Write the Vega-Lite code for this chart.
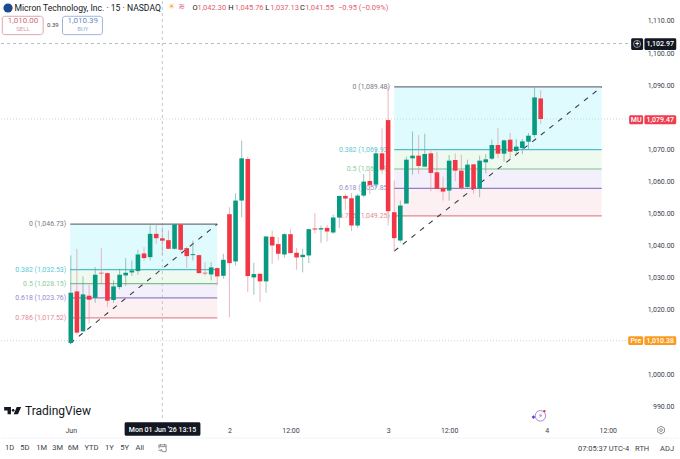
{
  "$schema": "https://vega.github.io/schema/vega-lite/v6.json",
  "width": 680,
  "height": 459,
  "padding": 0,
  "autosize": {"type": "fit", "contains": "padding"},
  "background": "#ffffff",
  "config": {
    "view": {"stroke": null},
    "axis": {"grid": false, "domain": false, "ticks": false, "title": null},
    "text": {"font": "Roboto", "fontSize": 7, "color": "#3a3e4a"}
  },
  "datasets": {
    "candles": [
      {"bar":0,"open":1009.69,"high":1036.95,"low":1009.49,"close":1025.34},
      {"bar":1,"open":1025.75,"high":1039.02,"low":1012.28,"close":1012.91},
      {"bar":2,"open":1013.32,"high":1030.42,"low":1013.11,"close":1024.82},
      {"bar":3,"open":1024.41,"high":1027.83,"low":1015.7,"close":1023.16},
      {"bar":4,"open":1023.79,"high":1033.32,"low":1022.23,"close":1030.94},
      {"bar":5,"open":1031.56,"high":1039.23,"low":1028.14,"close":1031.35},
      {"bar":6,"open":1031.45,"high":1031.56,"low":1020.88,"close":1022.85},
      {"bar":7,"open":1023.06,"high":1029.17,"low":1022.23,"close":1027.31},
      {"bar":8,"open":1027.1,"high":1032.8,"low":1026.38,"close":1030.94},
      {"bar":9,"open":1030.73,"high":1036.12,"low":1027.41,"close":1031.56},
      {"bar":10,"open":1031.66,"high":1035.39,"low":1030.52,"close":1032.28},
      {"bar":11,"open":1032.08,"high":1038.71,"low":1030.94,"close":1037.26},
      {"bar":12,"open":1037.57,"high":1039.54,"low":1035.39,"close":1036.12},
      {"bar":13,"open":1036.43,"high":1046.27,"low":1035.39,"close":1043.68},
      {"bar":14,"open":1043.68,"high":1046.73,"low":1040.57,"close":1042.33},
      {"bar":15,"open":1042.3,"high":1045.76,"low":1037.13,"close":1041.55},
      {"bar":16,"open":1041.71,"high":1044.72,"low":1039.02,"close":1039.02},
      {"bar":17,"open":1039.02,"high":1046.7,"low":1038.81,"close":1046.6},
      {"bar":18,"open":1046.6,"high":1046.7,"low":1038.19,"close":1038.71},
      {"bar":19,"open":1039.23,"high":1039.54,"low":1033.01,"close":1036.74},
      {"bar":20,"open":1037.05,"high":1041.6,"low":1035.39,"close":1037.36},
      {"bar":21,"open":1037.05,"high":1037.26,"low":1031.25,"close":1031.45},
      {"bar":22,"open":1031.56,"high":1034.87,"low":1030.73,"close":1031.35},
      {"bar":23,"open":1031.04,"high":1034.87,"low":1029.17,"close":1033.22},
      {"bar":24,"open":1033.01,"high":1033.32,"low":1027.62,"close":1030.42},
      {"bar":25,"open":1030.62,"high":1037.46,"low":1029.69,"close":1035.6},
      {"bar":26,"open":1049.8,"high":1051.98,"low":1017.68,"close":1034.57},
      {"bar":27,"open":1035.09,"high":1056.33,"low":1033.84,"close":1054.05},
      {"bar":28,"open":1054.05,"high":1072.7,"low":1048.87,"close":1067.21},
      {"bar":29,"open":1067,"high":1067.73,"low":1025.55,"close":1030.53},
      {"bar":30,"open":1030.11,"high":1034.67,"low":1024.72,"close":1031.15},
      {"bar":31,"open":1031.25,"high":1031.25,"low":1022.45,"close":1028.87},
      {"bar":32,"open":1028.87,"high":1042.86,"low":1025.35,"close":1042.86},
      {"bar":33,"open":1042.76,"high":1044.72,"low":1034.36,"close":1040.06},
      {"bar":34,"open":1040.48,"high":1042.65,"low":1035.4,"close":1037.47},
      {"bar":35,"open":1037.26,"high":1043.89,"low":1036.23,"close":1043.58},
      {"bar":36,"open":1043.58,"high":1045.14,"low":1037.68,"close":1037.68},
      {"bar":37,"open":1037.78,"high":1039.34,"low":1032.5,"close":1036.33},
      {"bar":38,"open":1036.43,"high":1039.03,"low":1031.67,"close":1037.16},
      {"bar":39,"open":1036.95,"high":1045.14,"low":1034.57,"close":1045.14},
      {"bar":40,"open":1045.35,"high":1050.11,"low":1043.69,"close":1045.03},
      {"bar":41,"open":1045.03,"high":1046.28,"low":1040.89,"close":1045.45},
      {"bar":42,"open":1045.55,"high":1046.49,"low":1041.3,"close":1044.41},
      {"bar":43,"open":1044.1,"high":1049.7,"low":1043.69,"close":1048.77},
      {"bar":44,"open":1048.77,"high":1055.5,"low":1045.55,"close":1055.5},
      {"bar":45,"open":1055.5,"high":1056.12,"low":1051.15,"close":1054.67},
      {"bar":46,"open":1054.77,"high":1056.43,"low":1044.52,"close":1046.28},
      {"bar":47,"open":1046.28,"high":1056.12,"low":1045.55,"close":1055.6},
      {"bar":48,"open":1055.6,"high":1062.34,"low":1055.09,"close":1059.96},
      {"bar":49,"open":1060.16,"high":1063.37,"low":1056.12,"close":1058.92},
      {"bar":50,"open":1059.02,"high":1070.11,"low":1057.99,"close":1068.76},
      {"bar":51,"open":1068.76,"high":1076.53,"low":1062.34,"close":1063.68},
      {"bar":52,"open":1079.12,"high":1089.48,"low":1046.28,"close":1050.73},
      {"bar":53,"open":1050.42,"high":1060.27,"low":1038.3,"close":1042.34},
      {"bar":54,"open":1041.61,"high":1054.05,"low":1041.09,"close":1052.49},
      {"bar":55,"open":1053.12,"high":1067.73,"low":1053.12,"close":1066.79},
      {"bar":56,"open":1067.21,"high":1075.6,"low":1062.13,"close":1068.04},
      {"bar":57,"open":1068.04,"high":1074.46,"low":1062.34,"close":1064.82},
      {"bar":58,"open":1064.62,"high":1074.88,"low":1064.62,"close":1068.55},
      {"bar":59,"open":1068.76,"high":1069.59,"low":1056.95,"close":1062.65},
      {"bar":60,"open":1062.86,"high":1069.28,"low":1057.67,"close":1057.67},
      {"bar":61,"open":1057.99,"high":1061.51,"low":1054.05,"close":1056.85},
      {"bar":62,"open":1057.16,"high":1068.24,"low":1054.05,"close":1066.48},
      {"bar":63,"open":1066.69,"high":1068.76,"low":1060.06,"close":1063.37},
      {"bar":64,"open":1063.37,"high":1068.35,"low":1057.36,"close":1057.99},
      {"bar":65,"open":1058.3,"high":1066.79,"low":1057.99,"close":1065.24},
      {"bar":66,"open":1065.34,"high":1065.34,"low":1056.12,"close":1057.67},
      {"bar":67,"open":1057.78,"high":1068.04,"low":1055.08,"close":1066.48},
      {"bar":68,"open":1065.96,"high":1068.55,"low":1062.55,"close":1066.9},
      {"bar":69,"open":1067.1,"high":1073.01,"low":1066.69,"close":1071.35},
      {"bar":70,"open":1071.35,"high":1076.64,"low":1067.31,"close":1068.66},
      {"bar":71,"open":1068.66,"high":1073.01,"low":1066.17,"close":1072.8},
      {"bar":72,"open":1073.01,"high":1075.08,"low":1066.69,"close":1069.28},
      {"bar":73,"open":1069.49,"high":1073.22,"low":1068.35,"close":1070.84},
      {"bar":74,"open":1070.42,"high":1073.22,"low":1068.55,"close":1072.49},
      {"bar":75,"open":1072.39,"high":1075.08,"low":1070.11,"close":1074.25},
      {"bar":76,"open":1074.46,"high":1089.28,"low":1073.74,"close":1086.17},
      {"bar":77,"open":1085.86,"high":1088.45,"low":1077.88,"close":1079.47}
    ],
    "zones": [
      {"level":"0","start":-0.1,"end":24,"top":1046.73,"bottom":1032.53},
      {"level":"0.382","start":-0.1,"end":24,"top":1032.53,"bottom":1028.15},
      {"level":"0.5","start":-0.1,"end":24,"top":1028.15,"bottom":1023.76},
      {"level":"0.618","start":-0.1,"end":24,"top":1023.76,"bottom":1017.52},
      {"level":"0","start":53,"end":87,"top":1089.48,"bottom":1069.93},
      {"level":"0.382","start":53,"end":87,"top":1069.93,"bottom":1063.89},
      {"level":"0.5","start":53,"end":87,"top":1063.89,"bottom":1057.85},
      {"level":"0.618","start":53,"end":87,"top":1057.85,"bottom":1049.25}
    ],
    "fibs": [
      {"level":"0","start":-0.1,"end":24,"labelBar":-0.75,"price":1046.73,"label":"0 (1,046.73)"},
      {"level":"0.382","start":-0.1,"end":24,"labelBar":-0.75,"price":1032.53,"label":"0.382 (1,032.53)"},
      {"level":"0.5","start":-0.1,"end":24,"labelBar":-0.75,"price":1028.15,"label":"0.5 (1,028.15)"},
      {"level":"0.618","start":-0.1,"end":24,"labelBar":-0.75,"price":1023.76,"label":"0.618 (1,023.76)"},
      {"level":"0.786","start":-0.1,"end":24,"labelBar":-0.75,"price":1017.52,"label":"0.786 (1,017.52)"},
      {"level":"0","start":53,"end":87,"labelBar":52.3,"price":1089.48,"label":"0 (1,089.48)"},
      {"level":"0.382","start":53,"end":87,"labelBar":52.3,"price":1069.93,"label":"0.382 (1,069.93)"},
      {"level":"0.5","start":53,"end":87,"labelBar":52.3,"price":1063.89,"label":"0.5 (1,063.89)"},
      {"level":"0.618","start":53,"end":87,"labelBar":52.3,"price":1057.85,"label":"0.618 (1,057.85)"},
      {"level":"0.786","start":53,"end":87,"labelBar":52.3,"price":1049.25,"label":"0.786 (1,049.25)"}
    ],
    "trends": [
      {"id":"a","bar":-0.1,"price":1009.56},
      {"id":"a","bar":24,"price":1046.73},
      {"id":"b","bar":53,"price":1038.3},
      {"id":"b","bar":87,"price":1089.48}
    ]
  },
  "layer": [
    {
      "data": {"name": "zones"},
      "mark": {"type": "rect"},
      "encoding": {
        "x": {
          "field": "start",
          "type": "quantitative",
          "title": null,
          "scale": {"domain": [-11.44, 99.67], "nice": false, "zero": false, "padding": 0},
          "axis": {
            "values": [0, 26, 36, 52, 62, 78, 88],
            "labelExpr": "datum.value == 0 ? 'Jun' : datum.value == 26 ? '2' : datum.value == 52 ? '3' : datum.value == 78 ? '4' : '12:00'",
            "orient": "bottom",
            "labelPadding": -29,
            "labelBaseline": "middle",
            "labelFont": "Roboto",
            "labelFontSize": 7,
            "labelColor": "#3a3e4a",
            "labelOverlap": false,
            "labelFlush": false,
            "labelBound": false
          }
        },
        "x2": {"field": "end"},
        "y": {
          "field": "top",
          "type": "quantitative",
          "title": null,
          "scale": {"domain": [973.54, 1116.22], "nice": false, "zero": false, "padding": 0},
          "axis": {
            "orient": "right",
            "values": [990, 1000, 1020, 1030, 1040, 1050, 1060, 1070, 1090, 1100, 1110],
            "format": ",.2f",
            "labelAlign": "right",
            "labelBaseline": "middle",
            "labelPadding": -5,
            "labelFont": "Roboto",
            "labelFontSize": 7,
            "labelColor": "#3a3e4a",
            "labelOverlap": false,
            "labelFlush": false,
            "labelBound": false
          }
        },
        "y2": {"field": "bottom"},
        "color": {
          "field": "level",
          "type": "nominal",
          "legend": null,
          "scale": {
            "domain": ["0", "0.382", "0.5", "0.618"],
            "range": ["#e0fbfe", "#eef9f0", "#f3f0fc", "#fdf0f2"]
          }
        }
      }
    },
    {
      "data": {"values": [{"price": 1079.47}, {"price": 1010.38}]},
      "mark": {"type": "rule", "color": "#cfd1d6", "strokeWidth": 1, "strokeDash": [1, 2]},
      "encoding": {
        "x": {"datum": -11.44, "type": "quantitative"},
        "x2": {"datum": 91.5},
        "y": {"field": "price", "type": "quantitative"}
      }
    },
    {
      "data": {"values": [{"price": 1102.97}]},
      "mark": {"type": "rule", "color": "#b8bac2", "strokeWidth": 1, "strokeDash": [3, 3]},
      "encoding": {
        "x": {"datum": -11.44, "type": "quantitative"},
        "x2": {"datum": 91.8},
        "y": {"field": "price", "type": "quantitative"}
      }
    },
    {
      "data": {"values": [{"bar": 15}]},
      "mark": {"type": "rule", "color": "#c4c6cd", "strokeWidth": 1, "strokeDash": [3, 3]},
      "encoding": {
        "x": {"field": "bar", "type": "quantitative"},
        "y": {"datum": 1116.22, "type": "quantitative"},
        "y2": {"datum": 985.66}
      }
    },
    {
      "data": {"values": [{"price": 980.06}]},
      "mark": {"type": "rule", "color": "#f0f3fa", "strokeWidth": 1},
      "encoding": {
        "y": {"field": "price", "type": "quantitative"}
      }
    },
    {
      "data": {"name": "fibs"},
      "mark": {"type": "rule", "strokeWidth": 1.2},
      "encoding": {
        "x": {"field": "start", "type": "quantitative"},
        "x2": {"field": "end"},
        "y": {"field": "price", "type": "quantitative"},
        "color": {
          "field": "level",
          "type": "nominal",
          "legend": null,
          "scale": {
            "domain": ["0", "0.382", "0.5", "0.618", "0.786"],
            "range": ["#6f727d", "#4fc0c9", "#7cc08a", "#8f7fc4", "#e08a92"]
          }
        }
      }
    },
    {
      "data": {"name": "trends"},
      "mark": {"type": "line", "color": "#3a3e4a", "strokeWidth": 1.1, "strokeDash": [5, 6]},
      "encoding": {
        "x": {"field": "bar", "type": "quantitative"},
        "y": {"field": "price", "type": "quantitative"},
        "detail": {"field": "id"}
      }
    },
    {
      "data": {"name": "fibs"},
      "mark": {"type": "text", "align": "right", "baseline": "middle"},
      "encoding": {
        "x": {"field": "labelBar", "type": "quantitative"},
        "y": {"field": "price", "type": "quantitative"},
        "text": {"field": "label"},
        "color": {
          "field": "level",
          "type": "nominal",
          "legend": null,
          "scale": {
            "domain": ["0", "0.382", "0.5", "0.618", "0.786"],
            "range": ["#787b86", "#5cc9d2", "#8ccb9a", "#9a8cc8", "#e58a9a"]
          }
        }
      }
    },
    {
      "data": {"name": "candles"},
      "mark": {"type": "rule", "strokeWidth": 1, "opacity": 0.6},
      "encoding": {
        "x": {"field": "bar", "type": "quantitative"},
        "y": {"field": "low", "type": "quantitative"},
        "y2": {"field": "high"},
        "color": {
          "condition": {"test": "datum.close >= datum.open", "value": "#5f9c90"},
          "value": "#d98c96"
        }
      }
    },
    {
      "data": {"name": "candles"},
      "mark": {"type": "bar", "size": 4.6},
      "encoding": {
        "x": {"field": "bar", "type": "quantitative"},
        "y": {"field": "open", "type": "quantitative"},
        "y2": {"field": "close"},
        "color": {
          "condition": {"test": "datum.close >= datum.open", "value": "#089981"},
          "value": "#f23645"
        }
      }
    },
    {
      "data": {"values": [
        {"tag":"dark","a":91.83,"b":93.79,"top":1104.62,"bottom":1100.99},
        {"tag":"dark","a":94.0,"b":99.22,"top":1104.62,"bottom":1100.99},
        {"tag":"dark","a":8.82,"b":21.24,"top":984.95,"bottom":980.78},
        {"tag":"red","a":91.5,"b":93.79,"top":1080.62,"bottom":1077.83},
        {"tag":"red","a":94.0,"b":99.22,"top":1080.62,"bottom":1077.83},
        {"tag":"orange","a":91.34,"b":93.79,"top":1011.77,"bottom":1009.07},
        {"tag":"orange","a":94.0,"b":99.22,"top":1011.77,"bottom":1009.07}
      ]},
      "mark": {"type": "rect", "cornerRadius": 1.5},
      "encoding": {
        "x": {"field": "a", "type": "quantitative"},
        "x2": {"field": "b"},
        "y": {"field": "top", "type": "quantitative"},
        "y2": {"field": "bottom"},
        "color": {
          "field": "tag",
          "type": "nominal",
          "legend": null,
          "scale": {"domain": ["dark", "red", "orange"], "range": ["#131722", "#ef3e50", "#fb9a1e"]}
        }
      }
    },
    {
      "data": {"values": [
        {"label":"+","bar":92.8,"price":1102.85},
        {"label":"1,102.97","bar":96.6,"price":1102.85},
        {"label":"MU","bar":92.65,"price":1079.2},
        {"label":"1,079.47","bar":96.6,"price":1079.2},
        {"label":"Pre","bar":92.6,"price":1010.4},
        {"label":"1,010.38","bar":96.6,"price":1010.4},
        {"label":"Mon 01 Jun '26   13:15","bar":15.03,"price":982.7}
      ]},
      "mark": {"type": "text", "color": "#ffffff", "align": "center", "baseline": "middle", "fontWeight": 500},
      "encoding": {
        "x": {"field": "bar", "type": "quantitative"},
        "y": {"field": "price", "type": "quantitative"},
        "text": {"field": "label"}
      }
    },
    {
      "data": {"values": [{"bar": 92.8, "price": 1102.85}]},
      "mark": {"type": "point", "shape": "circle", "size": 50, "stroke": "#ffffff", "strokeWidth": 0.8, "filled": false},
      "encoding": {
        "x": {"field": "bar", "type": "quantitative"},
        "y": {"field": "price", "type": "quantitative"}
      }
    },
    {
      "data": {"values": [
        {"side":"sell","a":-11.23,"b":-4.53,"top":1111.46,"bottom":1105.74},
        {"side":"buy","a":-1.36,"b":5.18,"top":1111.46,"bottom":1105.74}
      ]},
      "mark": {"type": "rect", "fill": "#ffffff", "strokeWidth": 1, "cornerRadius": 2.5},
      "encoding": {
        "x": {"field": "a", "type": "quantitative"},
        "x2": {"field": "b"},
        "y": {"field": "top", "type": "quantitative"},
        "y2": {"field": "bottom"},
        "stroke": {
          "field": "side",
          "type": "nominal",
          "legend": null,
          "scale": {"domain": ["sell", "buy"], "range": ["#dfa6ae", "#9fb4dc"]}
        }
      }
    },
    {
      "data": {"values": [
        {"side":"sell","bar":-7.84,"price":1110,"label":"1,010.00"},
        {"side":"buy","bar":1.96,"price":1110,"label":"1,010.39"}
      ]},
      "mark": {"type": "text", "align": "center", "baseline": "middle", "fontSize": 8},
      "encoding": {
        "x": {"field": "bar", "type": "quantitative"},
        "y": {"field": "price", "type": "quantitative"},
        "text": {"field": "label"},
        "color": {
          "field": "side",
          "type": "nominal",
          "legend": null,
          "scale": {"domain": ["sell", "buy"], "range": ["#cf6a78", "#6a8cc6"]}
        }
      }
    },
    {
      "data": {"values": [
        {"side":"sell","bar":-7.84,"price":1107.5,"label":"SELL"},
        {"side":"buy","bar":1.96,"price":1107.5,"label":"BUY"}
      ]},
      "mark": {"type": "text", "align": "center", "baseline": "middle", "fontSize": 6},
      "encoding": {
        "x": {"field": "bar", "type": "quantitative"},
        "y": {"field": "price", "type": "quantitative"},
        "text": {"field": "label"},
        "color": {
          "field": "side",
          "type": "nominal",
          "legend": null,
          "scale": {"domain": ["sell", "buy"], "range": ["#dc97a2", "#97aed8"]}
        }
      }
    },
    {
      "data": {"values": [{"bar": -2.94, "price": 1108.76, "label": "0.39"}]},
      "mark": {"type": "text", "align": "center", "baseline": "middle", "fontSize": 6},
      "encoding": {
        "x": {"field": "bar", "type": "quantitative"},
        "y": {"field": "price", "type": "quantitative"},
        "text": {"field": "label"}
      }
    },
    {
      "data": {"values": [{"bar": -10.29, "price": 1114.04}]},
      "mark": {"type": "point", "shape": "circle", "size": 85, "filled": true, "color": "#1d4a8c", "opacity": 1},
      "encoding": {
        "x": {"field": "bar", "type": "quantitative"},
        "y": {"field": "price", "type": "quantitative"}
      }
    },
    {
      "data": {"values": [{"bar": -9.23, "price": 1114.04, "label": "Micron Technology, Inc. · 15 · NASDAQ"}]},
      "mark": {"type": "text", "align": "left", "baseline": "middle", "fontSize": 8.6, "color": "#131722"},
      "encoding": {
        "x": {"field": "bar", "type": "quantitative"},
        "y": {"field": "price", "type": "quantitative"},
        "text": {"field": "label"}
      }
    },
    {
      "data": {"values": [
        {"bar":19.93,"price":1114.04,"label":"O"},
        {"bar":25.82,"price":1114.04,"label":"H"},
        {"bar":31.86,"price":1114.04,"label":"L"},
        {"bar":37.58,"price":1114.04,"label":"C"}
      ]},
      "mark": {"type": "text", "align": "left", "baseline": "middle", "fontSize": 7.5, "color": "#131722"},
      "encoding": {
        "x": {"field": "bar", "type": "quantitative"},
        "y": {"field": "price", "type": "quantitative"},
        "text": {"field": "label"}
      }
    },
    {
      "data": {"values": [
        {"bar":20.75,"price":1114.04,"label":"1,042.30"},
        {"bar":26.88,"price":1114.04,"label":"1,045.76"},
        {"bar":32.68,"price":1114.04,"label":"1,037.13"},
        {"bar":38.4,"price":1114.04,"label":"1,041.55"},
        {"bar":43.79,"price":1114.04,"label":"−0.95 (−0.09%)"}
      ]},
      "mark": {"type": "text", "align": "left", "baseline": "middle", "fontSize": 7.5, "color": "#e0606f"},
      "encoding": {
        "x": {"field": "bar", "type": "quantitative"},
        "y": {"field": "price", "type": "quantitative"},
        "text": {"field": "label"}
      }
    },
    {
      "data": {"values": [{"bar": 16.5, "price": 1114.2, "label": "☀"}]},
      "mark": {"type": "text", "font": "DejaVu Sans", "align": "center", "baseline": "middle", "fontSize": 8, "color": "#f7a823"},
      "encoding": {
        "x": {"field": "bar", "type": "quantitative"},
        "y": {"field": "price", "type": "quantitative"},
        "text": {"field": "label"}
      }
    },
    {
      "data": {"values": [{"bar": 18.14, "price": 1114.2, "label": "≋"}]},
      "mark": {"type": "text", "font": "DejaVu Sans", "align": "center", "baseline": "middle", "fontSize": 8, "color": "#d9689a"},
      "encoding": {
        "x": {"field": "bar", "type": "quantitative"},
        "y": {"field": "price", "type": "quantitative"},
        "text": {"field": "label"}
      }
    },
    {
      "data": {"values": [{"bar": -9.53, "price": 988.61}]},
      "mark": {
        "type": "point",
        "filled": true,
        "color": "#131722",
        "opacity": 1,
        "size": 289,
        "shape": "M-1,-.42 H-.2 V.42 H-.6 V-.02 H-1 Z M.12,.42 L.48,-.42 H1 L.62,.42 Z M.06,-.2 a.17,.17 0 1 0 .001,0 z"
      },
      "encoding": {
        "x": {"field": "bar", "type": "quantitative"},
        "y": {"field": "price", "type": "quantitative"}
      }
    },
    {
      "data": {"values": [{"bar": -7.52, "price": 988.61, "label": "TradingView"}]},
      "mark": {"type": "text", "align": "left", "baseline": "middle", "fontSize": 12, "fontWeight": 400, "color": "#131722"},
      "encoding": {
        "x": {"field": "bar", "type": "quantitative"},
        "y": {"field": "price", "type": "quantitative"},
        "text": {"field": "label"}
      }
    },
    {
      "data": {"values": [{"bar": 76.96, "price": 986.99}]},
      "mark": {"type": "point", "shape": "circle", "size": 110, "filled": false, "stroke": "#8a52c8", "strokeWidth": 1},
      "encoding": {
        "x": {"field": "bar", "type": "quantitative"},
        "y": {"field": "price", "type": "quantitative"}
      }
    },
    {
      "data": {"values": [{"bar": 76.96, "price": 986.99, "label": "⚡"}]},
      "mark": {"type": "text", "font": "DejaVu Sans", "align": "center", "baseline": "middle", "fontSize": 7, "color": "#8a52c8"},
      "encoding": {
        "x": {"field": "bar", "type": "quantitative"},
        "y": {"field": "price", "type": "quantitative"},
        "text": {"field": "label"}
      }
    },
    {
      "data": {"values": [{"bar": 77.61, "price": 988.46}]},
      "mark": {"type": "point", "shape": "circle", "size": 6, "filled": true, "color": "#e8334d", "opacity": 1},
      "encoding": {
        "x": {"field": "bar", "type": "quantitative"},
        "y": {"field": "price", "type": "quantitative"}
      }
    },
    {
      "data": {"values": [{"bar": 75.82, "price": 986.59}]},
      "mark": {"type": "point", "shape": "diamond", "size": 14, "filled": true, "color": "#6a3fd0", "opacity": 1},
      "encoding": {
        "x": {"field": "bar", "type": "quantitative"},
        "y": {"field": "price", "type": "quantitative"}
      }
    },
    {
      "data": {"values": [{"bar": 96.73, "price": 982.55}]},
      "mark": {"type": "point", "shape": "M0,-1 L.87,-.5 V.5 L0,1 L-.87,.5 V-.5 Z", "size": 60, "filled": false, "stroke": "#3a3e4a", "strokeWidth": 0.8},
      "encoding": {
        "x": {"field": "bar", "type": "quantitative"},
        "y": {"field": "price", "type": "quantitative"}
      }
    },
    {
      "data": {"values": [{"bar": 96.73, "price": 982.55}]},
      "mark": {"type": "point", "shape": "circle", "size": 8, "filled": false, "stroke": "#3a3e4a", "strokeWidth": 0.8},
      "encoding": {
        "x": {"field": "bar", "type": "quantitative"},
        "y": {"field": "price", "type": "quantitative"}
      }
    },
    {
      "data": {"values": [{"bar": 15.03, "price": 976.95}]},
      "mark": {"type": "point", "shape": "M-.9,-.8 H.9 V.9 H-.1 M-.9,.1 V-.8 M-.9,-.35 H.9 M-.5,-1 V-.6 M.5,-1 V-.6 M-1,.55 H-.1 M-.4,.25 L-.1,.55 L-.4,.85", "size": 64, "filled": false, "stroke": "#3a3e4a", "strokeWidth": 0.8},
      "encoding": {
        "x": {"field": "bar", "type": "quantitative"},
        "y": {"field": "price", "type": "quantitative"}
      }
    },
    {
      "data": {"values": [
        {"bar":-10.02,"price":976.95,"label":"1D"},
        {"bar":-7.52,"price":976.95,"label":"5D"},
        {"bar":-4.79,"price":976.95,"label":"1M"},
        {"bar":-2.17,"price":976.95,"label":"3M"},
        {"bar":0.38,"price":976.95,"label":"6M"},
        {"bar":3.38,"price":976.95,"label":"YTD"},
        {"bar":6.32,"price":976.95,"label":"1Y"},
        {"bar":8.82,"price":976.95,"label":"5Y"},
        {"bar":11.32,"price":976.95,"label":"All"},
        {"bar":93.63,"price":976.64,"label":"RTH"},
        {"bar":97.71,"price":976.64,"label":"ADJ"}
      ]},
      "mark": {"type": "text", "align": "center", "baseline": "middle", "fontSize": 7.5},
      "encoding": {
        "x": {"field": "bar", "type": "quantitative"},
        "y": {"field": "price", "type": "quantitative"},
        "text": {"field": "label"}
      }
    },
    {
      "data": {"values": [{"bar": 91.5, "price": 976.64, "label": "07:05:37 UTC-4"}]},
      "mark": {"type": "text", "align": "right", "baseline": "middle", "fontSize": 7.5},
      "encoding": {
        "x": {"field": "bar", "type": "quantitative"},
        "y": {"field": "price", "type": "quantitative"},
        "text": {"field": "label"}
      }
    }
  ],
  "resolve": {"scale": {"color": "independent", "stroke": "independent"}}
}
